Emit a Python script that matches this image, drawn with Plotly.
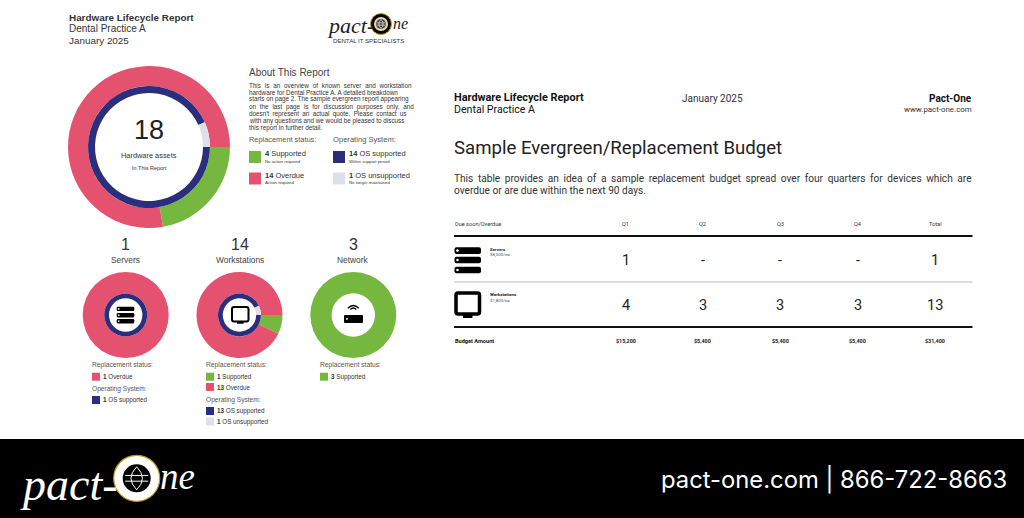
import plotly.graph_objects as go

W = 1024
H = 518

PINK = "#E4526F"
GREEN = "#76B83F"
NAVY = "#2B2E7C"
LIGHT = "#DDE0E9"
BLACK = "#000000"
GOLD = "#C9971C"
TEXT = "#333333"

# donut data: replacement status (supported, overdue) and OS (supported, unsupported)
total_status = [4, 14]
total_os = [14, 1]
server_status = [0, 1]
server_os = [1, 0]
workstation_status = [1, 13]
workstation_os = [13, 1]
network_status = [3, 0]

device_counts = ["1", "14", "3"]
device_names = ["Servers", "Workstations", "Network"]

# budget table
table_header = ["Q1", "Q2", "Q3", "Q4", "Total"]
servers_row = ["1", "-", "-", "-", "1"]
workstations_row = ["4", "3", "3", "3", "13"]
budget_row = ["$15,200", "$5,400", "$5,400", "$5,400", "$31,400"]

about_lines = [
    "This is an overview of known server and workstation",
    "hardware for Dental Practice A. A detailed breakdown",
    "starts on page 2. The sample evergreen report appearing",
    "on the last page is for discussion purposes only, and",
    "doesn't represent an actual quote. Please contact us",
    "with any questions and we would be pleased to discuss",
    "this report in further detail.",
]
# extra hair spaces per gap, the source text is justified
about_pad = [4, 0, 0, 4, 3, 0, 0]
budget_lines = [
    "This table provides an idea of a sample replacement budget spread over four quarters for devices which are",
    "overdue or are due within the next 90 days.",
]
budget_pad = [2, 0]

ARIAL = "Liberation Sans"
ROBOTO = "Roboto"

fig = go.Figure()


def donut(values, colors, cx, cy, r_out, r_in):
    fig.add_trace(
        go.Pie(
            values=values,
            marker=dict(colors=colors, line=dict(width=0)),
            hole=r_in / r_out,
            sort=False,
            direction="clockwise",
            rotation=90,
            textinfo="none",
            hoverinfo="skip",
            showlegend=False,
            domain=dict(
                x=[(cx - r_out) / W, (cx + r_out) / W],
                y=[1 - (cy + r_out) / H, 1 - (cy - r_out) / H],
            ),
        )
    )


def text(x, y, s, size, color=TEXT, font=ARIAL, anchor="left"):
    fig.add_annotation(
        x=x,
        y=y,
        text=s,
        xref="x",
        yref="y",
        showarrow=False,
        xanchor=anchor,
        yanchor="middle",
        borderpad=0,
        borderwidth=0,
        font=dict(family=font, size=size, color=color),
    )


def spaced(line, k):
    return line.replace(" ", " " + "\u200a" * k)


def rect(x0, y0, x1, y1, color):
    fig.add_shape(type="rect", x0=x0, y0=y0, x1=x1, y1=y1, fillcolor=color, line_width=0, layer="below")


def rounded(x0, y0, x1, y1, r, color, line=None, width=0):
    path = (
        f"M {x0 + r} {y0} L {x1 - r} {y0} Q {x1} {y0} {x1} {y0 + r} "
        f"L {x1} {y1 - r} Q {x1} {y1} {x1 - r} {y1} "
        f"L {x0 + r} {y1} Q {x0} {y1} {x0} {y1 - r} "
        f"L {x0} {y0 + r} Q {x0} {y0} {x0 + r} {y0} Z"
    )
    fig.add_shape(type="path", path=path, fillcolor=color, line=dict(color=line or color, width=width))


def circle(cx, cy, r, color, line=None, width=0):
    fig.add_shape(
        type="circle",
        x0=cx - r,
        y0=cy - r,
        x1=cx + r,
        y1=cy + r,
        fillcolor=color,
        line=dict(color=line or color, width=width),
    )


def server_icon(x0, x1, rows, h):
    for y in rows:
        rounded(x0, y, x1, y + h, h * 0.3, BLACK)
        circle(x0 + h * 0.45, y + h / 2, h * 0.2, "#FFFFFF")


def monitor_icon(x0, y0, x1, y1, stand, lw):
    rounded(x0, y0, x1, y1, 2, "#FFFFFF", BLACK, lw)
    cx = (x0 + x1) / 2
    w = (x1 - x0) * 0.2
    rounded(cx - w, y1, cx + w, y1 + stand, 0.5, BLACK)


def legend_row(x, y, color, count, label):
    rect(x, y - 4, x + 8, y + 4, color)
    text(x + 11, y, f"<b>{count}</b> {label}", 6.3)


def globe(cx, cy, r, color, lw):
    # crossed lines of the logo mark
    fig.add_shape(type="line", x0=cx - r, y0=cy - r * 0.25, x1=cx + r, y1=cy - r * 0.25, line=dict(color=color, width=lw))
    fig.add_shape(type="line", x0=cx - r, y0=cy + r * 0.25, x1=cx + r, y1=cy + r * 0.25, line=dict(color=color, width=lw))
    fig.add_shape(
        type="path",
        path=f"M {cx} {cy - r} Q {cx - r} {cy} {cx} {cy + r} Q {cx + r} {cy} {cx} {cy - r} Z",
        line=dict(color=color, width=lw),
    )


# donuts, outer status ring and inner OS ring
donut(total_status, [GREEN, PINK], 149, 147, 81, 61)
donut(total_os, [NAVY, LIGHT], 149, 147, 61, 54)
donut(server_status, [GREEN, PINK], 125.7, 315, 43, 21.5)
donut(server_os, [NAVY, LIGHT], 125.7, 315, 21.5, 16.7)
donut(workstation_status, [GREEN, PINK], 239.5, 315, 43, 21.5)
donut(workstation_os, [NAVY, LIGHT], 239.5, 315, 21.5, 16.7)
donut(network_status, [GREEN, PINK], 353.3, 315, 43, 21.7)

# left page header
text(69, 17, "<b>Hardware Lifecycle Report</b>", 9.9)
text(69, 28.5, "Dental Practice A", 10)
text(69, 40, "January 2025", 9.9)

# small logo
text(327, 25, "<i>pact-</i>", 22, "#222222", "Liberation Serif")
text(393, 23, "<i>ne</i>", 16, "#222222", "Liberation Serif")
circle(381, 24, 10.5, BLACK, GOLD, 1)
circle(381, 24, 7, "#E8D9A8")
circle(381, 24, 5, "#444444")
globe(381, 24, 4.5, "#FFFFFF", 0.6)
text(368.5, 40.5, "DENTAL IT SPECIALISTS", 6.1, "#333333", ARIAL, "center")

# main donut centre
text(149, 130, str(sum(total_status)), 27, "#222222", ARIAL, "center")
text(149, 155, "Hardware assets", 7.4, TEXT, ARIAL, "center")
text(149, 167.5, "In This Report", 5.5, TEXT, ARIAL, "center")

# about block
text(249, 72, "About This Report", 10, "#444444")
for i, (line, pad) in enumerate(zip(about_lines, about_pad)):
    text(249, 85 + i * 7.2, spaced(line, pad), 6.3)

text(249, 139.5, "Replacement status:", 7.4, "#555555")
text(333, 139.5, "Operating System:", 7.6, "#555555")
big_legend = [
    (249, 157, GREEN, total_status[0], "Supported", "No action required"),
    (249, 178.5, PINK, total_status[1], "Overdue", "Action required"),
    (333, 157, NAVY, total_os[0], "OS supported", "Within support period"),
    (333, 178.5, LIGHT, total_os[1], "OS unsupported", "No longer maintained"),
]
for x, y, color, count, label, sub in big_legend:
    rect(x, y - 6, x + 12, y + 6, color)
    text(x + 16, y - 3.5, f"<b>{count}</b> {label}", 7.5)
    text(x + 16, y + 4.2, sub, 4.3)

# device columns
for cx, count, name in zip([125.7, 239.5, 353.3], device_counts, device_names):
    text(cx, 244, count, 16, "#333333", ARIAL, "center")
    text(cx, 260, name, 8.4, "#444444", ARIAL, "center")

# device icons
server_icon(116.7, 134.3, [306.7, 313, 319], 4.4)
monitor_icon(232, 307, 248.5, 321.5, 2.2, 2)
for r in [3, 5.5]:
    fig.add_shape(
        type="path",
        path=f"M {353.3 - r} {311 - r * 0.5} Q {353.3} {311 - r * 1.5} {353.3 + r} {311 - r * 0.5}",
        line=dict(color=BLACK, width=1.2),
    )
rounded(344, 315, 363, 323, 1, BLACK)
circle(347, 319, 0.9, "#FFFFFF")

# device legends
text(92, 365, "Replacement status:", 6.7, "#555555")
legend_row(92, 376.7, PINK, server_status[1], "Overdue")
text(92, 389.3, "Operating System:", 6.6, "#555555")
legend_row(92, 400, NAVY, server_os[0], "OS supported")

text(206, 365, "Replacement status:", 6.7, "#555555")
legend_row(206, 376.7, GREEN, workstation_status[0], "Supported")
legend_row(206, 387, PINK, workstation_status[1], "Overdue")
text(206, 400, "Operating System:", 6.6, "#555555")
legend_row(206, 411, NAVY, workstation_os[0], "OS supported")
legend_row(206, 421.5, LIGHT, workstation_os[1], "OS unsupported")

text(320, 365, "Replacement status:", 6.7, "#555555")
legend_row(320, 376.7, GREEN, network_status[0], "Supported")

# right page header
text(454, 97, "<b>Hardware Lifecycle Report</b>", 10.9, "#111111", ROBOTO)
text(454, 109, "Dental Practice A", 10.6, "#111111", ROBOTO)
text(712.5, 98.5, "January 2025", 10, "#333333", ROBOTO, "center")
text(972, 98.5, "<b>Pact-One</b>", 10, "#111111", ROBOTO, "right")
text(972, 109, "www.pact-one.com", 7.9, "#333333", ROBOTO, "right")

text(454, 148, "Sample Evergreen/Replacement Budget", 18.6, "#222222", ROBOTO)
for y, line, pad in zip([178, 190], budget_lines, budget_pad):
    text(454, y, spaced(line, pad), 10.14, "#333333", ROBOTO)

# budget table
col_x = [625.5, 702.9, 780.2, 857.6, 935.3]
text(454.5, 223.7, "Due soon/Overdue", 5.6, "#333333", ROBOTO)
for x, head, serv, work, budget in zip(col_x, table_header, servers_row, workstations_row, budget_row):
    text(x, 223.7, head, 5.6, "#333333", ROBOTO, "center")
    text(x, 260, serv, 14.5, "#222222", ROBOTO, "center")
    text(x, 305, work, 14.5, "#222222", ROBOTO, "center")
    text(x, 341, f"<b>{budget}</b>", 5.4, "#222222", ROBOTO, "center")
text(454.5, 341, "<b>Budget Amount</b>", 5.6, "#111111", ROBOTO)

for y, color, width in [(236, "#111111", 2), (282, "#BBBBBB", 1), (327, "#111111", 2)]:
    fig.add_shape(type="line", x0=454, x1=972.5, y0=y, y1=y, line=dict(color=color, width=width))

server_icon(454.5, 481, [247.3, 256.7, 266.7], 6.6)
monitor_icon(456, 293, 479.5, 314, 4, 3.5)
text(490, 249, "<b>Servers</b>", 4.4, "#222222", ROBOTO)
text(490, 254.5, "$8,000/ea", 4.4, "#555555", ROBOTO)
text(490, 294.3, "<b>Workstations</b>", 4.4, "#222222", ROBOTO)
text(490, 300, "$1,800/ea", 4.4, "#555555", ROBOTO)

# footer band
rect(0, 439, W, H, BLACK)
text(20, 484, "<i>pact-</i>", 46, "#FFFFFF", "Liberation Serif")
text(160, 476, "<i>ne</i>", 37, "#FFFFFF", "Liberation Serif")
circle(136.7, 478.3, 23, "#FFFFFF", GOLD, 1.2)
circle(136.7, 478.3, 14, BLACK)
globe(136.7, 478.3, 11.5, "#FFFFFF", 1)
text(1007, 479, "pact-one.com | 866-722-8663", 23.8, "#FFFFFF", "Inter", "right")

fig.update_layout(
    width=W,
    height=H,
    margin=dict(l=0, r=0, t=0, b=0),
    paper_bgcolor="#FFFFFF",
    plot_bgcolor="#FFFFFF",
    xaxis=dict(range=[0, W], visible=False, fixedrange=True),
    yaxis=dict(range=[H, 0], visible=False, fixedrange=True),
    showlegend=False,
)

fig.write_html(
    "out.html",
    config={"displayModeBar": False},
    post_script="document.body.style.margin='0';",
)
